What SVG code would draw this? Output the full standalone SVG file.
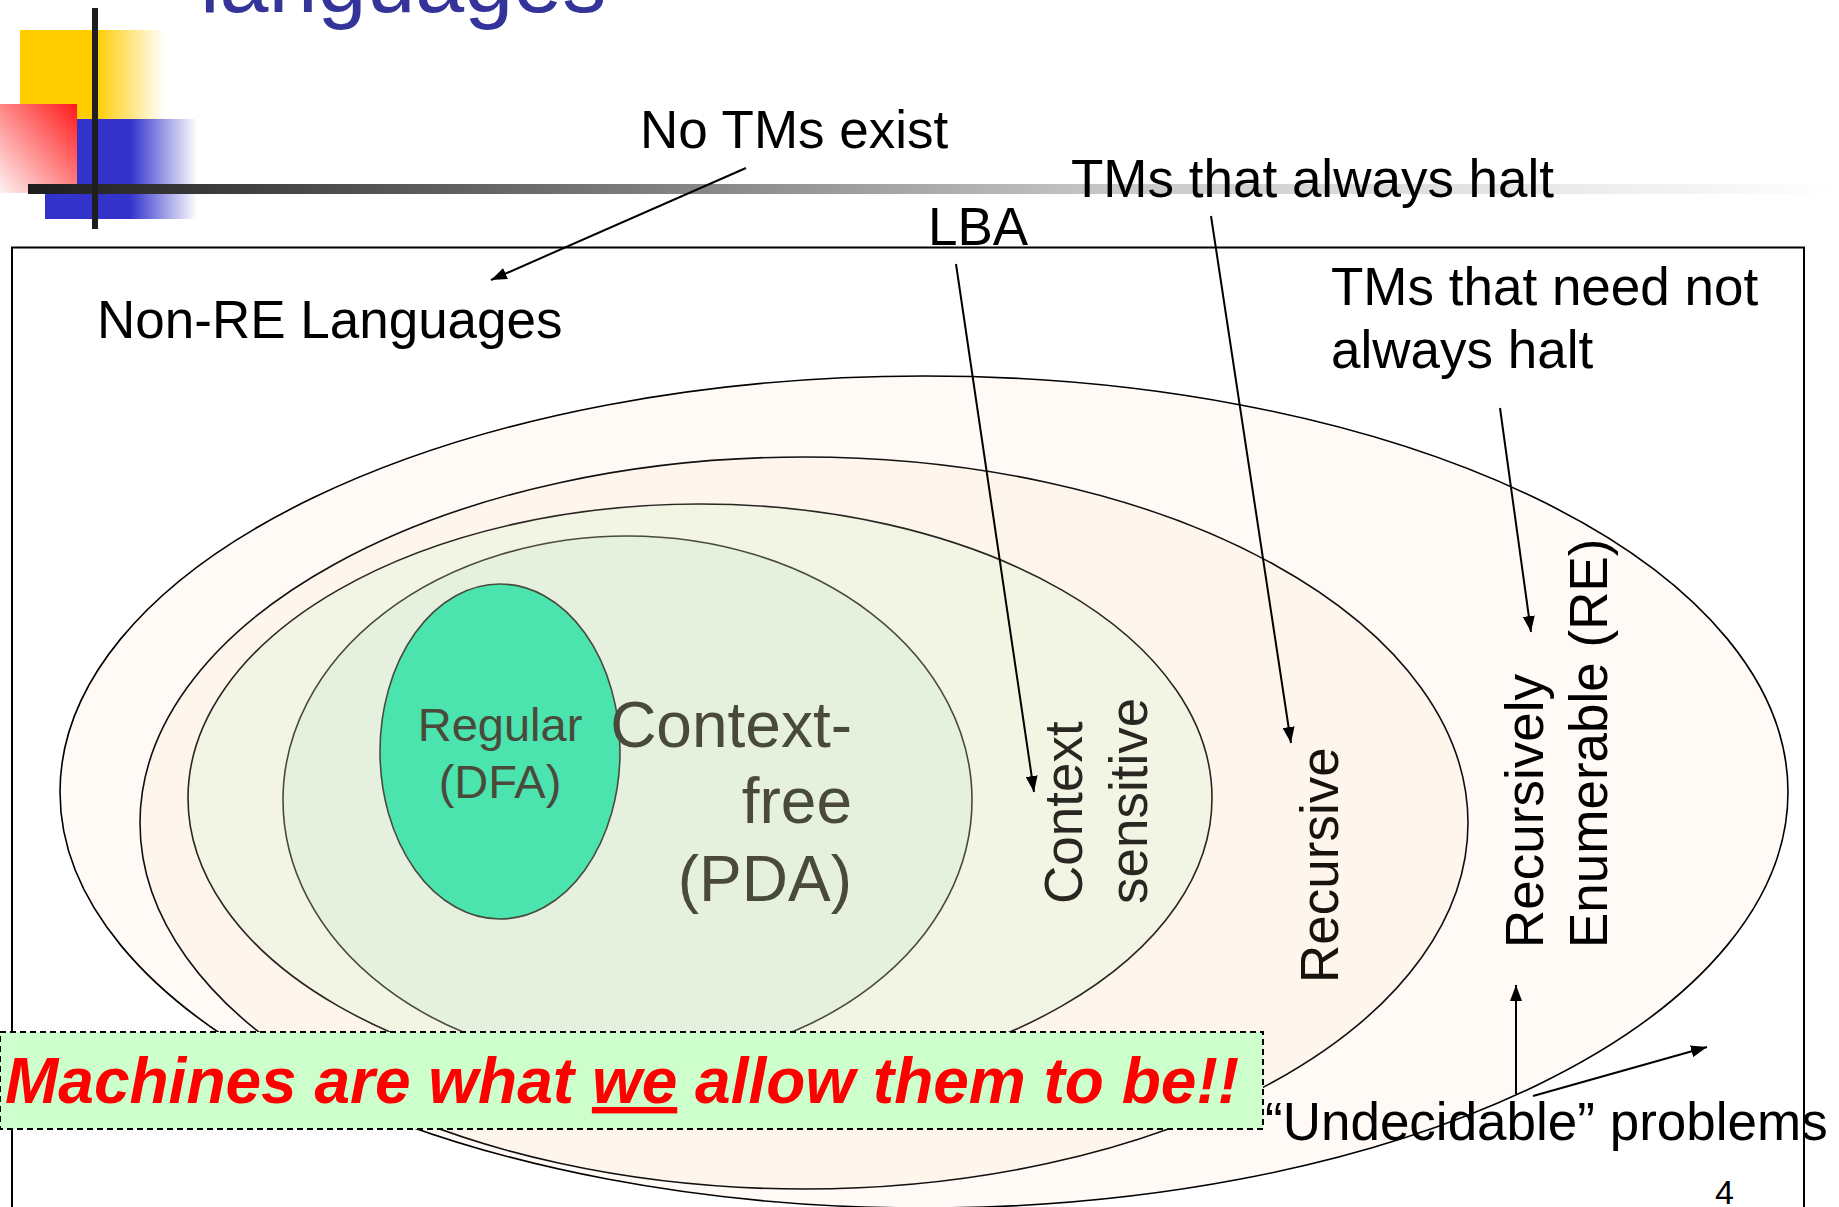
<svg xmlns="http://www.w3.org/2000/svg" width="1839" height="1207" viewBox="0 0 1839 1207">
  <defs>
    <linearGradient id="gYellow" x1="0" y1="0" x2="1" y2="0">
      <stop offset="0" stop-color="#ffcc00"/>
      <stop offset="0.52" stop-color="#ffcc00"/>
      <stop offset="1" stop-color="#ffcc00" stop-opacity="0"/>
    </linearGradient>
    <linearGradient id="gBlue" x1="0" y1="0" x2="1" y2="0">
      <stop offset="0" stop-color="#3333cc"/>
      <stop offset="0.56" stop-color="#3333cc"/>
      <stop offset="1" stop-color="#3333cc" stop-opacity="0"/>
    </linearGradient>
    <linearGradient id="gRed" x1="1" y1="0" x2="0" y2="1">
      <stop offset="0" stop-color="#ff1a1a"/>
      <stop offset="1" stop-color="#fff2f2"/>
    </linearGradient>
    <linearGradient id="gBar" x1="0" y1="0" x2="1" y2="0">
      <stop offset="0" stop-color="#1e1e1e"/>
      <stop offset="0.37" stop-color="#868686"/>
      <stop offset="0.6" stop-color="#c8c8c8"/>
      <stop offset="1" stop-color="#ffffff"/>
    </linearGradient>
    <marker id="arrow" viewBox="0 0 16 12" refX="16" refY="6" markerWidth="16" markerHeight="12" orient="auto" markerUnits="userSpaceOnUse">
      <path d="M0,0 L16,6 L0,12 z" fill="#000"/>
    </marker>
    <style>
      .lbl { font-family: "Liberation Sans", Arial, sans-serif; font-size: 53px; fill: #000; }
      .set { stroke-width: 1.6; }
      .conn { stroke: #000; stroke-width: 2; fill: none; marker-end: url(#arrow); }
    </style>
  </defs>

  <!-- slide header ornament -->
  <g id="header">
    <text x="200" y="12" font-family="Liberation Sans, Arial, sans-serif" font-size="88" fill="#333399">languages</text>
    <rect x="20" y="30" width="145" height="90" fill="url(#gYellow)"/>
    <rect x="45" y="119" width="152" height="100" fill="url(#gBlue)"/>
    <rect x="0" y="104" width="77" height="89" fill="url(#gRed)"/>
    <rect x="28" y="184" width="1811" height="10" fill="url(#gBar)"/>
    <rect x="92" y="8" width="6" height="221" fill="#1e1e1e"/>
  </g>

  <!-- frame around the universe of languages -->
  <g id="universe">
    <rect x="12" y="247.5" width="1792" height="1000" fill="none" stroke="#000" stroke-width="2"/>
    <text class="lbl" x="97" y="338">Non-RE Languages</text>
  </g>

  <!-- nested language classes, outermost first -->
  <g id="re">
    <ellipse class="set" cx="924" cy="792" rx="864" ry="416" fill="#fffaf6" stroke="#000"/>
    <text class="lbl" transform="translate(1543,948) rotate(-90)">Recursively</text>
    <text class="lbl" transform="translate(1607,948) rotate(-90)">Enumerable (RE)</text>
  </g>
  <g id="recursive">
    <ellipse class="set" cx="804" cy="823" rx="664" ry="366" fill="#fef5ec" stroke="#111"/>
    <text class="lbl" style="fill:#16120e" transform="translate(1338,983) rotate(-90)">Recursive</text>
  </g>
  <g id="context-sensitive">
    <ellipse class="set" cx="700" cy="798" rx="512" ry="294" fill="#f2f5e3" stroke="#2a2622"/>
    <text class="lbl" style="fill:#2a2622" transform="translate(1082,904) rotate(-90)">Context</text>
    <text class="lbl" style="fill:#2a2622" transform="translate(1147,904) rotate(-90)">sensitive</text>
  </g>
  <g id="context-free">
    <ellipse class="set" cx="627.5" cy="800" rx="344.5" ry="264" fill="#e5f1de" stroke="#4a4a3c"/>
    <g id="regular">
      <ellipse class="set" cx="500" cy="751.5" rx="120" ry="167.5" fill="#4be3ae" stroke="#4a4a3c"/>
      <text font-family="Liberation Sans, Arial, sans-serif" font-size="47" fill="#4a4a3a" text-anchor="middle"><tspan x="500" y="741">Regular</tspan><tspan x="500" y="798">(DFA)</tspan></text>
    </g>
    <text font-family="Liberation Sans, Arial, sans-serif" font-size="64" fill="#4a4a3a" text-anchor="end"><tspan x="852" y="747">Context-</tspan><tspan x="852" y="823">free</tspan><tspan x="852" y="901">(PDA)</tspan></text>
  </g>

  <!-- machine annotations -->
  <g id="no-tms">
    <text class="lbl" x="640" y="148">No TMs exist</text>
  </g>
  <g id="lba">
    <text class="lbl" x="928" y="245">LBA</text>
  </g>
  <g id="tms-always-halt">
    <text class="lbl" x="1071" y="197">TMs that always halt</text>
  </g>
  <g id="tms-need-not-halt">
    <text class="lbl"><tspan x="1331" y="305">TMs that need not</tspan><tspan x="1331" y="368">always halt</tspan></text>
  </g>
  <g id="undecidable">
    <text class="lbl" x="1265" y="1140">“Undecidable” problems</text>
  </g>

  <!-- connectors -->
  <g id="connectors">
    <line class="conn" x1="746" y1="168" x2="491" y2="280"/>
    <line class="conn" x1="956" y1="264" x2="1034" y2="792"/>
    <line class="conn" x1="1211" y1="216" x2="1291" y2="743"/>
    <line class="conn" x1="1500" y1="408" x2="1531" y2="632"/>
    <line class="conn" x1="1516" y1="1094" x2="1516" y2="985"/>
    <line class="conn" x1="1533" y1="1096" x2="1707" y2="1047"/>
  </g>

  <!-- motto banner -->
  <g id="motto">
    <rect x="0" y="1032" width="1263" height="97" fill="#ccffcc" stroke="#000" stroke-width="2" stroke-dasharray="6 4"/>
    <text x="5" y="1103" font-family="Liberation Sans, Arial, sans-serif" font-size="64" font-weight="bold" font-style="italic" fill="#ff0000">Machines are what <tspan style="text-decoration:underline">we</tspan> allow them to be!!</text>
  </g>

  <!-- slide number -->
  <text x="1715" y="1204" font-family="Liberation Sans, Arial, sans-serif" font-size="34" fill="#000">4</text>
</svg>
